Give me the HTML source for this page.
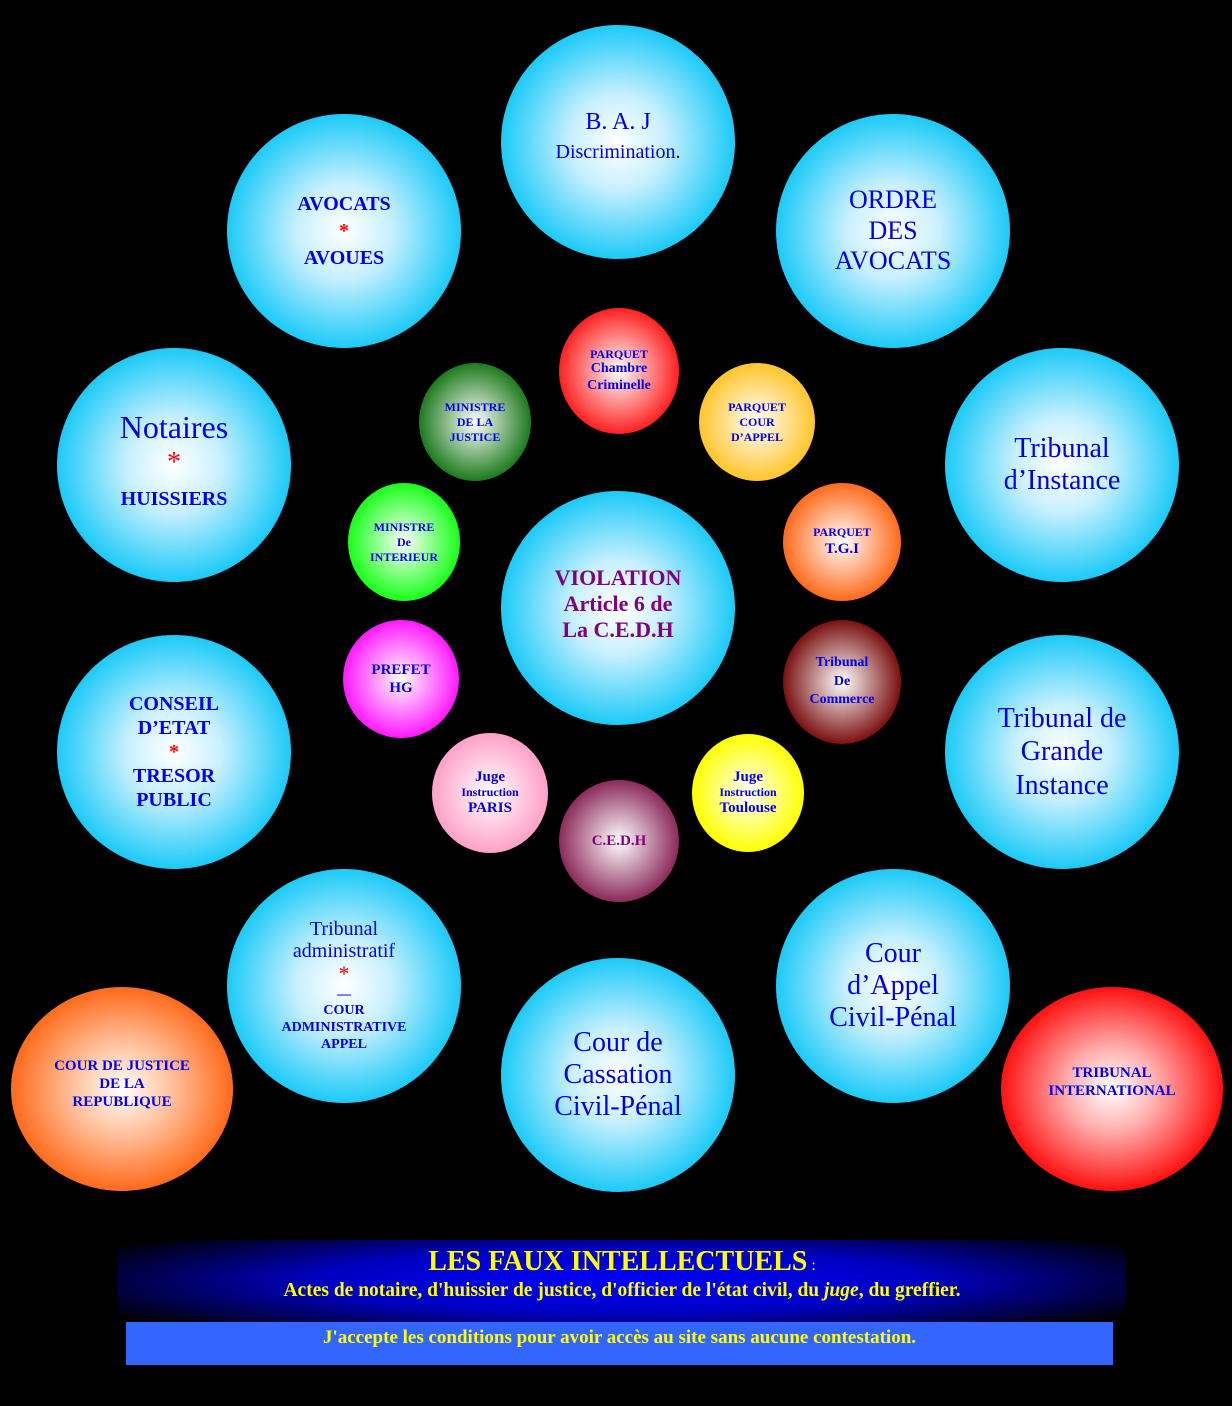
<!DOCTYPE html><html><head><meta charset="utf-8"><style>
body{margin:0;background:#000;width:1232px;height:1406px;position:relative;overflow:hidden;font-family:"Liberation Serif",serif}
.c{position:absolute;border-radius:50%;display:flex;flex-direction:column;align-items:center;justify-content:center;text-align:center;color:#0000ee;line-height:1.1}
.b{background:radial-gradient(closest-side,#fff 0%,#c8f0ff 40%,#1ccaf8 100%)}
.s{font-weight:bold;font-size:12px}
.r{color:#f00}
</style></head><body>
<div class="c b" style="left:501px;top:25px;width:234px;height:234px;font-size:24px;line-height:1.2"><div style="margin-top:-10px">B. A. J<br><span style="font-size:20px">Discrimination<span style="color:#000">.</span></span></div></div>
<div class="c b" style="left:227px;top:114px;width:234px;height:234px;font-weight:bold;font-size:20px;line-height:1.35">AVOCATS<br><span class="r">*</span>AVOUES</div>
<div class="c b" style="left:776px;top:114px;width:234px;height:234px;font-size:26px;line-height:1.18">ORDRE<br>DES<br>AVOCATS</div>
<div class="c b" style="left:57px;top:348px;width:234px;height:234px;font-size:32px;line-height:1.05"><div style="margin-top:-8px">Notaires<br><span class="r" style="font-size:28px">*</span><br><span style="font-size:20px;font-weight:bold">HUISSIERS</span></div></div>
<div class="c b" style="left:945px;top:348px;width:234px;height:234px;font-size:28px;line-height:1.15">Tribunal<br>d’Instance</div>
<div class="c b" style="left:57px;top:635px;width:234px;height:234px;font-size:20px;font-weight:bold;line-height:1.2">CONSEIL<br>D’ETAT<br><span class="r">*</span>TRESOR<br>PUBLIC</div>
<div class="c b" style="left:945px;top:635px;width:234px;height:234px;font-size:28px;line-height:1.18">Tribunal de<br>Grande<br>Instance</div>
<div class="c b" style="left:501px;top:491px;width:234px;height:234px;font-size:22px;font-weight:bold;color:#800080;line-height:1.18"><div style="margin-top:-8px">VIOLATION<br>Article 6 de<br>La C.E.D.H</div></div>
<div class="c b" style="left:227px;top:869px;width:234px;height:234px;font-size:20px;line-height:1.1">Tribunal<br>administratif<br><span class="r" style="font-size:22px">*</span><span style="font-size:14px;font-weight:bold;line-height:1.2">—<br>COUR<br>ADMINISTRATIVE<br>APPEL</span></div>
<div class="c b" style="left:776px;top:869px;width:234px;height:234px;font-size:28px;line-height:1.15">Cour<br>d’Appel<br>Civil-Pénal</div>
<div class="c b" style="left:501px;top:958px;width:234px;height:234px;font-size:28px;line-height:1.15">Cour de<br>Cassation<br>Civil-Pénal</div>
<div class="c" style="left:11px;top:987px;width:222px;height:204px;background:radial-gradient(closest-side,#fff 0%,#ffc8a8 40%,#ff6a1a 100%);font-size:15px;font-weight:bold;line-height:1.2"><div style="margin-top:-10px">COUR DE JUSTICE<br>DE LA<br>REPUBLIQUE</div></div>
<div class="c" style="left:1001px;top:987px;width:222px;height:204px;background:radial-gradient(closest-side,#fff 0%,#ffb0b0 40%,#ff1010 100%);font-size:15px;font-weight:bold;line-height:1.2"><div style="margin-top:-14px">TRIBUNAL<br>INTERNATIONAL</div></div>
<div class="c s" style="left:559px;top:308px;width:120px;height:126px;background:radial-gradient(closest-side,#fff,#ff2020);font-size:14px;line-height:1.2"><span style="font-size:12px">PARQUET</span>Chambre<br>Criminelle</div>
<div class="c s" style="left:419px;top:363px;width:112px;height:118px;background:radial-gradient(closest-side,#fff,#1d7a1d);line-height:1.25">MINISTRE<br>DE LA<br>JUSTICE</div>
<div class="c s" style="left:699px;top:363px;width:116px;height:118px;background:radial-gradient(closest-side,#fff,#ffc52a);line-height:1.25">PARQUET<br>COUR<br>D’APPEL</div>
<div class="c s" style="left:348px;top:483px;width:112px;height:118px;background:radial-gradient(closest-side,#fff,#18ff18);line-height:1.25">MINISTRE<br>De<br>INTERIEUR</div>
<div class="c s" style="left:783px;top:483px;width:118px;height:118px;background:radial-gradient(closest-side,#fff,#ff6a1a);line-height:1.25">PARQUET<br><span style="font-size:15px">T.G.I</span></div>
<div class="c s" style="left:343px;top:620px;width:116px;height:118px;background:radial-gradient(closest-side,#fff,#ff18ff);font-size:15px;line-height:1.2">PREFET<br>HG</div>
<div class="c s" style="left:783px;top:620px;width:118px;height:124px;background:radial-gradient(closest-side,#fff,#7a1010);font-size:14px;line-height:1.35">Tribunal<br>De<br>Commerce</div>
<div class="c s" style="left:432px;top:733px;width:116px;height:120px;background:radial-gradient(closest-side,#fff,#ffa0c8);font-size:15px;line-height:1.15">Juge<br><span style="font-size:12px">Instruction</span>PARIS</div>
<div class="c s" style="left:692px;top:734px;width:112px;height:118px;background:radial-gradient(closest-side,#fff,#ffff00);font-size:15px;line-height:1.15">Juge<br><span style="font-size:12px">Instruction</span>Toulouse</div>
<div class="c s" style="left:559px;top:780px;width:120px;height:122px;background:radial-gradient(closest-side,#fff,#8b2a5a);font-size:15px;color:#800080">C.E.D.H</div>
<div style="position:absolute;left:118px;top:1240px;width:1008px;height:82px;background:radial-gradient(ellipse 60% 80% at 50% 50%,#0000ff 0%,#0000c0 50%,#000 100%);text-align:center;color:#ffff00;font-weight:bold">
<div style="font-size:28px;margin-top:6px;line-height:32px">LES FAUX INTELLECTUELS<span style="font-size:16px;font-weight:normal"> :</span></div>
<div style="font-size:19.5px;line-height:22px;margin-top:-2px">Actes de notaire, d'huissier de justice, d'officier de l'état civil, du <i>juge</i>, du greffier.</div></div>
<div style="position:absolute;left:126px;top:1322px;width:987px;height:43px;background:#3366ff;color:#ffff00;font-weight:bold;font-size:19px;text-align:center;line-height:32px">J'accepte les conditions pour avoir accès au site sans aucune contestation.</div>
</body></html>
